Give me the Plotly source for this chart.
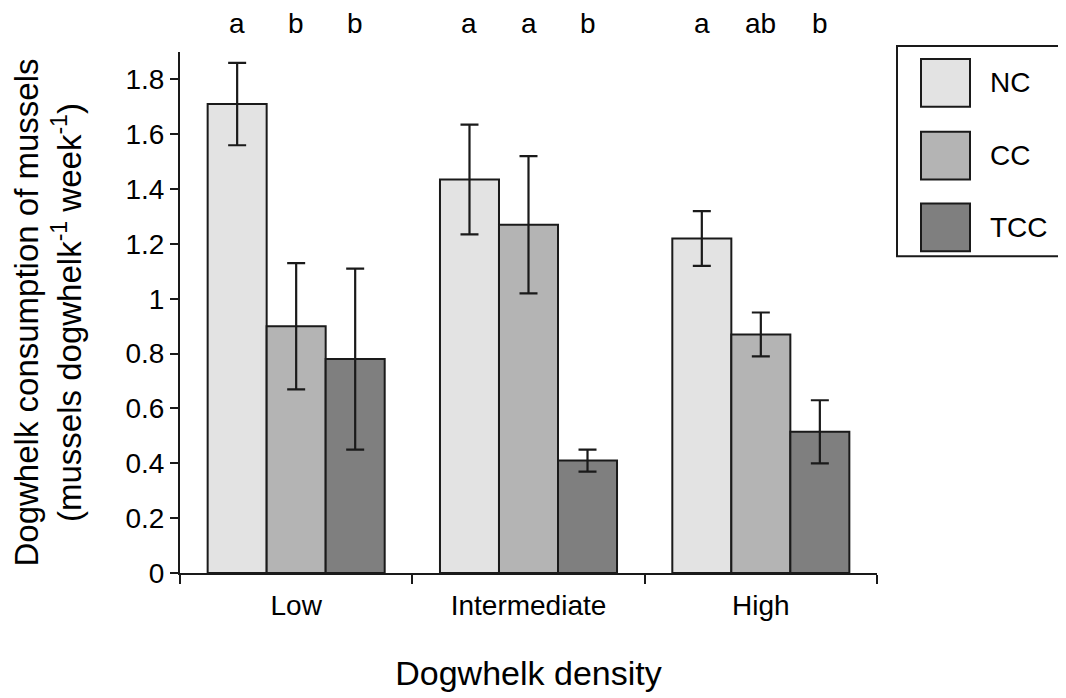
import plotly.graph_objects as go

# ---- data ----
densities = ["Low", "Intermediate", "High"]
treatments = ["NC", "CC", "TCC"]
nc_mean = [1.71, 1.435, 1.22]
nc_err = [0.15, 0.20, 0.10]
cc_mean = [0.90, 1.27, 0.87]
cc_err = [0.23, 0.25, 0.08]
tcc_mean = [0.78, 0.41, 0.515]
tcc_err = [0.33, 0.04, 0.115]
nc_letters = ["a", "a", "a"]
cc_letters = ["b", "a", "ab"]
tcc_letters = ["b", "b", "b"]

means = [nc_mean, cc_mean, tcc_mean]
errs = [nc_err, cc_err, tcc_err]
letters = [nc_letters, cc_letters, tcc_letters]
colors = ["#e3e3e3", "#b4b4b4", "#7f7f7f"]

FONT = "Liberation Sans, Arial, sans-serif"
INK = "#1a1a1a"

# page body has an 8px margin; work in screen pixels and convert
OFF = 8
W, H = 1066 - OFF, 698 - OFF
L, T = 180 - OFF, 52 - OFF
R = W - (877 - OFF)
B = H - (575 - OFF)
pw, ph = W - L - R, H - T - B


def px_x(p):
    return (p - OFF - L) / pw


def px_y(p):
    return (T + ph - (p - OFF)) / ph


bw = 0.254
offsets = [-1.5 * bw, -0.5 * bw, 0.5 * bw]
xs = list(range(len(densities)))

fig = go.Figure()
for i, name in enumerate(treatments):
    fig.add_trace(go.Bar(
        x=xs, y=means[i], name=name, width=bw, offset=offsets[i],
        marker=dict(color=colors[i], line=dict(color=INK, width=2)),
        error_y=dict(type="data", array=errs[i], color=INK, thickness=2.2, width=9),
        showlegend=False,
    ))

annotations = []
for i in range(len(treatments)):
    for j, x in enumerate(xs):
        annotations.append(dict(
            x=x + offsets[i] + bw / 2, xref="x", y=px_y(40), yref="paper",
            text=letters[i][j], showarrow=False, xanchor="center", yanchor="bottom",
            borderpad=0, font=dict(family=FONT, size=28, color="black"),
        ))

# custom legend with large swatches
shapes = [dict(type="rect", xref="paper", yref="paper",
               x0=px_x(897), x1=px_x(1064), y0=px_y(257), y1=px_y(46),
               line=dict(color=INK, width=2), fillcolor="white", layer="below")]
sw_tops = [59, 132, 204]
for i, name in enumerate(treatments):
    top = sw_tops[i]
    shapes.append(dict(type="rect", xref="paper", yref="paper",
                       x0=px_x(921), x1=px_x(970), y0=px_y(top + 48), y1=px_y(top),
                       line=dict(color=INK, width=2), fillcolor=colors[i]))
    annotations.append(dict(
        x=px_x(988), xref="paper", y=px_y(top + 24), yref="paper",
        text=name, showarrow=False, xanchor="left", yanchor="middle",
        font=dict(family=FONT, size=28, color="black"),
    ))

fig.update_layout(
    width=W, height=H,
    margin=dict(l=L, r=R, t=T, b=B),
    plot_bgcolor="white", paper_bgcolor="white",
    font=dict(family=FONT, color="black"),
    annotations=annotations, shapes=shapes,
    bargap=0.23,
)
fig.update_xaxes(
    range=[-0.5, 2.5], tickvals=xs, ticktext=densities, ticks="",
    showline=True, linecolor=INK, linewidth=2, showgrid=False, zeroline=False,
    tickfont=dict(family=FONT, size=28, color="black"), ticklabelstandoff=6,
    minor=dict(tickvals=[-0.5, 0.5, 1.5, 2.5], ticks="outside", ticklen=9,
               tickcolor=INK, tickwidth=1.5, showgrid=False),
    title=dict(text="Dogwhelk density", font=dict(family=FONT, size=34, color="black"),
               standoff=42),
)
fig.update_yaxes(
    range=[0, 1.9], tickvals=[0, 0.2, 0.4, 0.6, 0.8, 1, 1.2, 1.4, 1.6, 1.8],
    ticktext=["0", "0.2", "0.4", "0.6", "0.8", "1", "1.2", "1.4", "1.6", "1.8"],
    ticks="outside", ticklen=8, tickcolor=INK, tickwidth=1.5,
    showline=True, linecolor=INK, linewidth=2, showgrid=False, zeroline=False,
    tickfont=dict(family=FONT, size=28, color="black"),
    title=dict(text="Dogwhelk consumption of mussels<br>(mussels dogwhelk<sup>-1</sup> week<sup>-1</sup>)",
               font=dict(family=FONT, size=33, color="black"), standoff=34),
)

fig.write_html("out.html")
